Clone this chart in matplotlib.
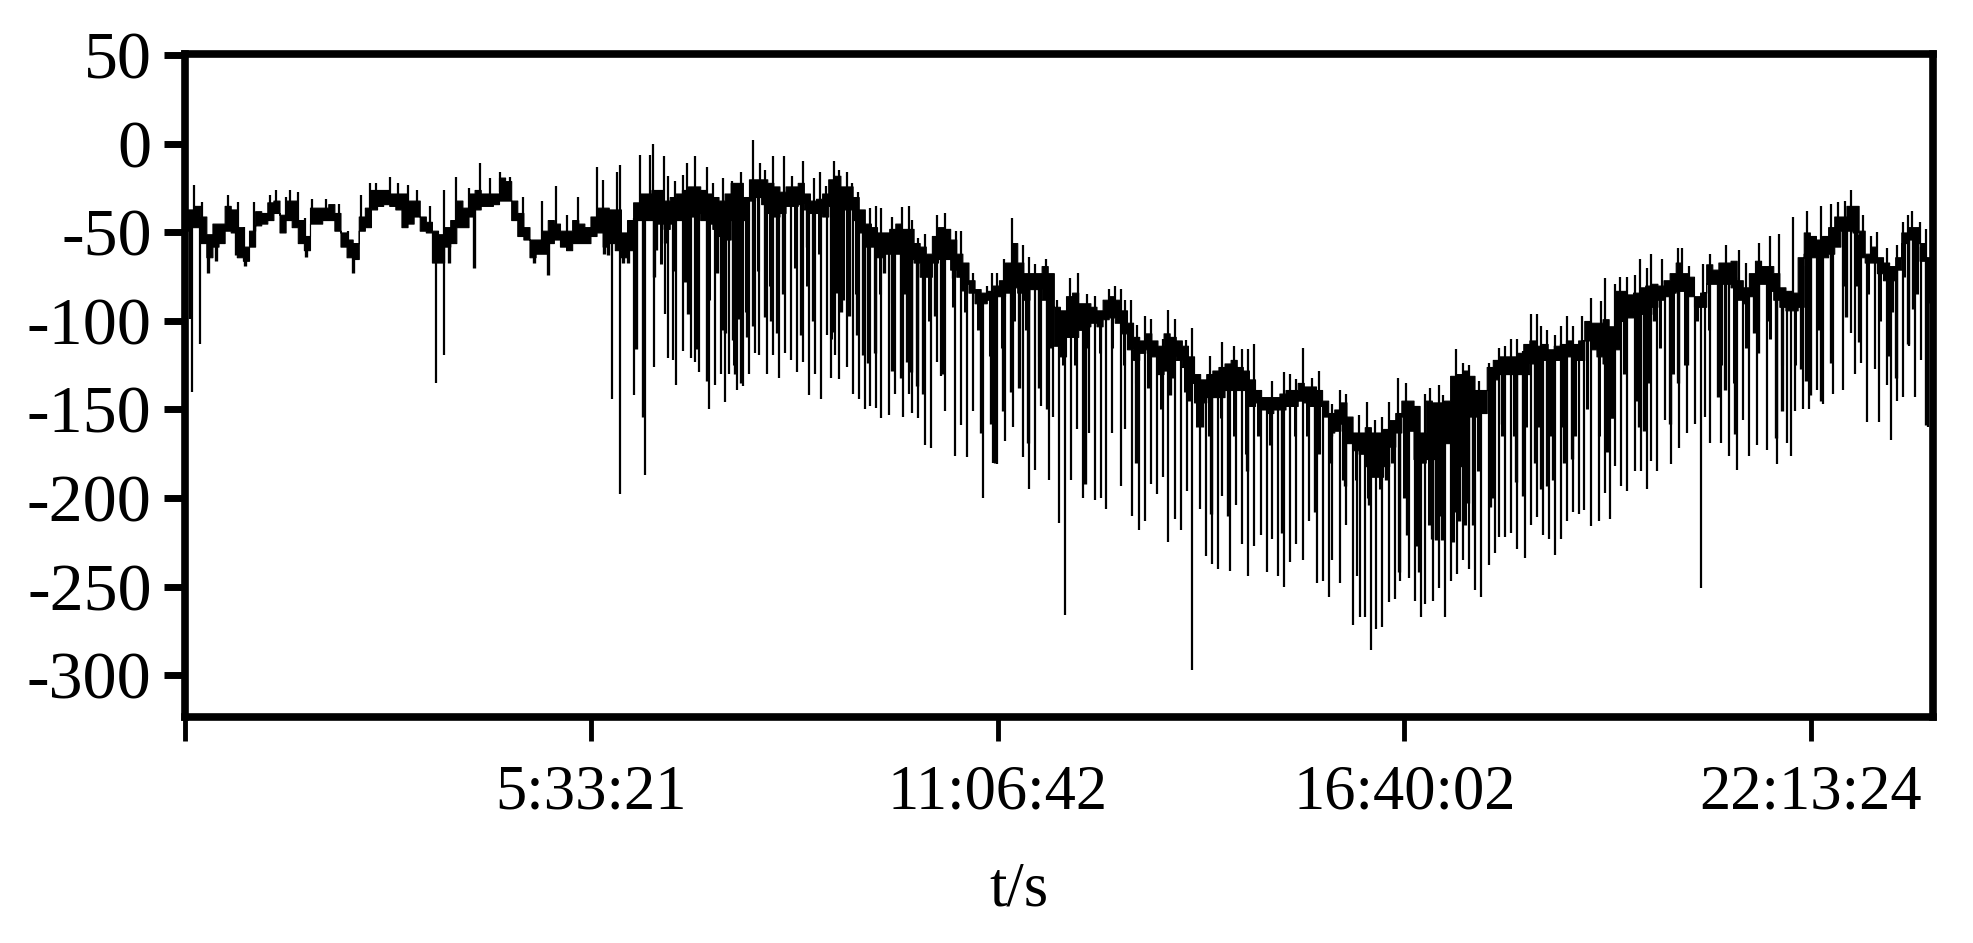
import numpy as np
import matplotlib
matplotlib.use('Agg')
import matplotlib.pyplot as plt

plt.rcParams['font.family'] = ['Liberation Serif', 'DejaVu Serif']
plt.rcParams['axes.unicode_minus'] = False

# samples are 5 minutes apart, positions below are in sample numbers
SAMPLE = 300

# solid part of the trace, even samples
band_top = [-43, -35, -51, -45, -37, -58, -38, -33, -40, -32, -52, -36, -34, -50, -56, -36, -26, -28, -28, -32,
            -44, -51, -43, -36, -26, -28, -19, -32, -47, -54, -43, -49, -43, -47, -36, -37, -50, -33, -28,
            -26, -30, -26, -24, -28, -32, -22, -30, -20, -22, -27, -24, -28, -31, -20, -24, -30, -45, -50,
            -48, -48, -56, -62, -47, -54, -67, -82, -83, -77, -56, -73, -73, -73, -94, -84, -90,
            -94, -86, -94, -109, -107, -114, -109, -114, -130, -130, -126, -122, -128, -139, -143, -141, -139,
            -137, -139, -152, -146, -163, -160, -163, -156, -145, -148, -145, -146, -131, -128, -139, -126,
            -120, -120, -113, -114, -116, -113, -113,
            -100, -101, -103, -83, -84, -80, -80, -73, -73, -86, -68, -67, -66, -81, -66, -69, -81, -84,
            -50, -54, -47, -41, -35, -62, -64, -69, -50, -47, -64, -62]
band_bottom = [-49, -47, -64, -56, -50, -66, -46, -43, -50, -47, -60, -45, -43, -58, -65, -47, -35, -35, -47, -41,
               -50, -67, -56, -47, -37, -35, -32, -43, -54, -62, -56, -58, -56, -56, -50, -56, -64, -43, -43,
               -45, -45, -43, -39, -45, -52, -43, -43, -30, -39, -39, -35, -37, -39, -35, -37, -43, -58, -64,
               -62, -64, -67, -75, -65, -71, -79, -90, -88, -86, -81, -88, -82, -92, -120, -109, -103,
               -103, -98, -107, -122, -116, -130, -120, -126, -146, -143, -143, -139, -139, -146, -152, -150, -148,
               -146, -148, -163, -158, -173, -182, -188, -171, -154, -178, -178, -163, -182, -148, -154, -139,
               -130, -130, -130, -124, -122, -122, -122,
               -111, -120, -124, -100, -94, -96, -88, -84, -83, -92, -79, -79, -81, -90, -79, -83, -92, -94,
               -62, -64, -62, -49, -50, -67, -73, -77, -56, -56, -69, -69]
# same, odd samples
odd_top = [-37, -41, -45, -35, -47, -49, -39, -32, -32, -43, -36, -36, -39, -54, -41, -26, -26, -28, -32,
           -41, -49, -47, -32, -28, -28, -28, -21, -39, -54, -49, -45, -49, -45, -41, -36, -37, -43, -28,
           -26, -32, -28, -24, -26, -30, -28, -22, -20, -20, -24, -24, -22, -32, -28, -18, -24, -37,
           -47, -50, -45, -48, -58, -52, -48, -62, -77, -84, -80, -67, -67, -73, -69, -92, -86, -90,
           -92, -88, -88, -101, -111, -111, -107, -111, -120, -133, -128, -124, -126, -133, -143, -143, -139,
           -135, -137, -145, -150, -154, -163, -163, -161, -152, -145, -163, -146, -145, -130, -131, -139,
           -122, -120, -118, -111, -113, -114, -111, -111,
           -101, -99, -83, -85, -81, -79, -77, -67, -75, -84, -71, -67, -77, -73, -69, -73, -83, -64,
           -52, -52, -41, -35, -49, -58, -67, -64, -47, -56, -64]
odd_bottom = [-47, -56, -58, -49, -64, -58, -45, -39, -43, -56, -45, -43, -49, -64, -49, -37, -34, -37, -45,
              -49, -67, -58, -47, -41, -35, -34, -32, -52, -64, -62, -54, -60, -56, -52, -58, -60, -60, -43,
              -43, -48, -43, -41, -43, -48, -54, -41, -32, -34, -41, -35, -34, -39, -41, -34, -37, -50,
              -58, -62, -62, -65, -75, -67, -65, -75, -84, -90, -86, -84, -84, -82, -88, -114, -109, -105,
              -101, -99, -101, -116, -118, -120, -128, -122, -135, -146, -143, -139, -139, -148, -150, -150, -148,
              -145, -148, -154, -162, -169, -175, -188, -182, -163, -162, -180, -178, -169, -182, -154, -152,
              -133, -130, -130, -124, -122, -122, -120, -122,
              -116, -124, -116, -98, -96, -92, -86, -83, -86, -92, -79, -79, -88, -86, -79, -88, -94, -92,
              -64, -64, -58, -49, -64, -67, -77, -71, -54, -66, -71]

# thin tips above the trace
tip_pos = [1.5, 2.8, 7.1, 8.7, 9.7, 11.3, 14, 15, 16.6, 17.3, 18.6, 19.6, 20.9, 23.2, 25.2, 26.8, 28.8, 30.4, 31.4, 33.6,
           34.9, 36.6, 38, 40.2, 42.5, 44.5, 46.6, 48.4, 50, 51.7, 53.3, 55.5, 58.6, 60.9, 62.6, 64.5, 67.5, 68.5, 70.8, 71.4,
           74.7, 76.3, 76.7, 78.5, 79.3, 80.3, 81.6, 82.3, 83.6, 85.6, 86.6, 88.2, 89.7, 91.2, 93.1, 94.3, 95.2, 96.4, 98.2, 99.6,
           101.3, 103.2, 104.2, 105.1, 106.5, 107.2, 108.5, 109.4, 110.4, 112.4, 113.4, 114.1, 116, 117.6, 118.7, 119.3, 120.3, 121.3, 123.3, 124.6,
           126.4, 127.2, 128.2, 129.2, 131.5, 132.4, 133.2, 134.4, 135.7, 137.4, 138.4, 139.4, 141.2, 143, 145.2, 146.5, 148, 149.3,
           151.5, 152.5, 153.5, 154.1, 155.1, 156.1, 157.4, 158.4, 160.4, 161.3, 162.3, 164.2, 165.2, 168.1, 170.1, 172.1, 173.4, 174.4, 175.4, 178.3,
           180.3, 181.3, 182.3, 183.3, 184.8, 186, 188.1, 189.5, 190.5, 192.5, 193.8, 195.1, 196.4, 197.4, 199, 200.3, 203.3, 204.2, 205.6, 206.3,
           208.5, 209.6, 210.6, 212.2, 213.9, 215.5, 216.5, 217.5, 218.5, 219.5, 220.7, 221.7, 222.4, 223.4, 224.7, 225.7, 226.6, 227.6, 229.2,
           230.6, 232.2, 232.9, 234.5, 235.3, 236.5, 237.8, 238.7, 239.8, 240.4, 242.3, 244.8, 245.6, 246.6, 248.9, 250.2, 252.8, 254.8, 256, 258.1,
           260, 261.4, 263.7, 266, 268.3, 269.9, 271.2, 272.2, 273.2, 275.2, 276.5, 277.5, 279.1, 280.8, 281.7, 282.6, 283.3, 284.5, 285.6, 286.9, 287.7]
tip_val = [-23, -33, -29, -33, -47, -33, -29, -26, -30, -26, -27, -42, -31, -31, -34, -49, -29, -22, -22, -18.5,
           -22, -23, -26, -35, -26, -18.5, -25, -11, -19.5, -16, -18.5, -30, -32, -24, -40, -30, -13, -20.5, -16, -12,
           -6, -6, 0, -7, -18, -21, -17.5, -10.5, -7, -13, -22, -19, -21, -16, 2, -10.5, -15, -7, -7, -18,
           -9.5, -19, -16, -24, -9.5, -15, -16, -22, -27, -36, -35, -36, -41, -35.5, -35, -43, -53, -51, -40, -39,
           -49, -49, -67, -73, -80, -73, -73, -65, -42, -57, -64, -68, -65, -88, -76, -73, -85, -86,
           -82, -80, -82, -88, -88, -102, -97, -99, -110, -94, -99, -111, -104, -120, -112, -114, -116, -116, -113, -134,
           -129, -130, -133, -115, -132, -128, -147, -139, -141, -153, -146, -156, -154, -146, -132, -135, -141, -138, -136, -142,
           -116, -124, -125, -134, -124, -115, -114, -110, -110, -117, -96, -96, -103, -105, -108, -103, -97, -103, -97,
           -87, -89, -76, -79, -75, -75, -74, -65, -70, -62, -65, -59, -59, -69, -68, -62, -57, -60, -67, -56,
           -52, -51, -41, -38, -35, -34, -33, -32, -26, -40, -52, -50, -59, -57, -44, -40, -38, -44, -48, -50, -44]

# long downward spikes
spike_pos = [0.8, 1.15, 2.5, 41.1, 42.5,
             70, 71.4, 73.7, 75.4, 77, 78.7, 79.3, 80, 80.6, 81.6, 83, 83.6, 84.3, 85.9, 86.9,
             87.9, 88.5, 89.2, 90.5, 91.5, 92.5, 93.5, 94.1, 95.4, 96.4, 97.4, 98.4, 99.4, 100.4, 101.4, 102.3, 103.3, 104.3, 105.3, 106,
             106.6, 107.3, 108.6, 109.6, 110.6, 111.5, 112.4, 113.4, 114.1, 115.4, 116.4, 117.7, 118.7, 119.3, 120.3, 121.3, 122.3, 123.3, 124, 124.6,
             126.3, 127.2, 128.2, 129.2, 130.9, 132.5, 133.2, 134.5, 135.8, 137.4, 138.4, 139.4, 140.4, 141.7, 142.4, 143.4, 144.3, 145.3, 146.3, 147.3,
             148.3, 149.3, 150.3, 151.1, 152.1, 153.5, 154.1, 155.4, 156.4, 157.4, 158.4, 159.4, 160.4, 161.3, 162.3, 163.3, 164.3, 165.2, 166.5, 167.5,
             168.5, 169.5, 170.1, 171.4, 172.4, 173.4, 174.4, 175.4, 176.4, 177.4, 178.3, 179.3, 180.3, 181.3, 182.3, 183.3, 184.3, 185.6, 186.6, 187.6,
             188.2, 189.5, 190.5, 191.5, 192.2, 192.8, 193.5, 194.5, 195.4, 196.4, 197.4, 198.4, 199.3, 200.7, 201.7, 202.7, 203.3, 204.7, 205.6, 206.6,
             207.6, 208.6, 209.6, 210.6, 211.6, 212.6, 213.9, 214.9, 215.5, 216.5, 217.5, 218.5, 219.8, 220.8, 221.8, 222.8, 223.7, 224.7, 225.7, 226.7,
             227.7, 228.7, 229.5, 230.6, 231.9, 232.9, 233.8, 234.5, 235.5, 236.5, 237.8, 238.8, 239.8, 240.4, 241.4, 242.7, 243.7, 245, 246.3, 247.7,
             248.6, 249.3, 250.2, 251.9, 253.2, 254.5, 255.5, 256.5, 257.8, 259.4, 261.1, 262.7, 263.4, 264.1, 265.4, 266.4, 267.7, 268.7, 270.3, 271.9,
             273.2, 273.9, 274.9, 275.8, 277.2, 277.8, 279.1, 279.8, 280.8, 281.8, 282.8, 283.7, 284.7, 285.8, 287, 287.7]
spike_val = [-99, -140, -113, -135, -119,
             -144, -198, -142, -187, -126, -96, -121, -122, -136, -117, -121, -123, -129, -150, -136,
             -130, -146, -130, -139, -137, -130, -118, -119, -130, -119, -132, -118, -122, -129, -123, -142, -130, -144, -108, -132,
             -119, -133, -126, -141, -144, -150, -148, -149, -155, -153, -141, -154, -141, -152, -155, -170, -172, -123, -131, -151,
             -176, -159, -177, -151, -200, -180, -181, -168, -160, -177, -195, -184, -148, -190, -154, -214, -266, -190, -161, -200,
             -163, -201, -200, -206, -163, -193, -161, -210, -218, -213, -192, -198, -188, -225, -212, -218, -196, -297, -206, -233,
             -237, -240, -199, -241, -204, -226, -244, -227, -221, -242, -223, -244, -250, -236, -226, -235, -213, -248, -247, -256,
             -235, -248, -215, -272, -244, -267, -267, -286, -274, -273, -259, -257, -247, -245, -258, -267, -260, -258, -251, -267,
             -247, -243, -235, -240, -252, -256, -238, -231, -222, -222, -220, -229, -234, -215, -211, -221, -223, -232, -223, -213,
             -208, -209, -207, -216, -213, -197, -212, -182, -193, -196, -185, -185, -195, -179, -185, -156, -181, -172, -163, -158,
             -251, -154, -169, -169, -176, -184, -156, -176, -170, -173, -181, -169, -176, -151, -150, -150, -139, -147, -141, -139,
             -107, -130, -124, -157, -127, -157, -136, -167, -145, -143, -114, -143, -122, -160, -130, -125]

# shorter spikes that thicken the dark part under the trace
short_pos = [3.8, 5.1, 8.4, 9.8, 19.9, 27.5, 43.3, 47.4, 57.2, 59.5,
             68.8, 69.4, 70.8, 71.9, 72.6, 74, 75.1, 76.9, 77.3, 78.7, 82.5, 83.9, 85.6, 87.2, 88.2, 88.6, 89.8, 90.2, 90.8, 91.2,
             92.1, 93.1, 95.1, 96.1, 97.1, 98.1, 101, 102, 103, 106.3, 106.9, 107.6, 108.9, 110.2, 111.2, 112.1, 113.1, 114.7, 116, 117.4,
             118.4, 119, 120, 121, 123, 124.3, 125.9, 127.6, 130.5, 132.2, 132.8, 134.2, 135.5, 136.8, 138.2, 140.1, 141.4, 147.6,
             155.9, 161.6, 164.7, 166.8, 168.2, 171.1, 174.2, 176, 180, 185.4, 188, 190.2, 194.2, 196.3, 197, 199.1, 200.4, 202, 202.4, 204.5, 205.2, 206.2,
             208.3, 208.9, 210.4, 211.3, 214, 214.4, 216, 218.3, 219.4, 221.5, 222.4, 223.4, 224.4, 226.2, 227.5,
             233.3, 234, 238.5, 239.3, 241, 243.5, 244.8, 246.3, 251.4, 252.6, 254.2, 257.3, 258, 259.7, 260.9, 262, 265, 265.9, 266.5, 268.4,
             269.9, 272.5, 274.6, 279.3, 280.6, 282.6, 283.4, 285.5, 286.7]
short_val = [-73, -66, -63, -69, -64, -73, -67, -70, -67, -74,
             -62, -63, -58, -67, -67, -116, -154, -75, -60, -56, -96, -116, -134, -73, -105, -107, -111, -130, -99, -135,
             -109, -103, -98, -100, -107, -85, -108, -58, -100, -106, -84, -95, -97, -108, -119, -124, -118, -73, -128, -132,
             -123, -129, -137, -141, -97, -130, -76, -83, -163, -158, -180, -151, -140, -138, -169, -138, -150, -192,
             -180, -142, -145, -160, -209, -210, -185, -140, -220, -208, -165, -193, -204, -182, -190, -242, -221, -227, -242, -223, -224, -224,
             -208, -213, -203, -215, -205, -200, -158, -191, -199, -180, -195, -193, -190, -180, -178,
             -174, -155, -160, -162, -100, -158, -135, -125, -143, -139, -164, -107, -118, -100, -166, -151, -127, -134, -142, -145,
             -124, -98, -112, -120, -132, -113, -93, -159, -115]

# lower edge of the dark shading under the trace, even samples from 78 on
shade_val = [-68, -72, -78, -80, -88, -100, -125, -95, -72, -80, -82, -70, -80, -62, -110, -88, -85, -88, -85, -90, -85,
             -110, -100, -105, -92, -95, -105, -120, -115, -100, -105, -120, -115, -125, -125, -115, -118, -115, -125,
             -135, -138, -150, -132, -140, -160, -165, -155, -165, -175, -165, -170, -185, -165, -165, -175, -180,
             -190, -190, -200, -195, -180, -200, -220, -215, -210, -225, -215, -185, -180, -165, -165, -160, -160, -165, -160, -165,
             -150, -165, -155, -130, -145, -135, -115, -130, -125, -100, -105, -125, -135, -115, -100, -110, -125, -125, -115,
             -105, -105, -80, -80, -85, -100, -95, -75, -85, -90, -85]

x_ticks = [0, 20001, 40002, 60002, 80004]
x_labels = ['', '5:33:21', '11:06:42', '16:40:02', '22:13:24']
y_ticks = [50, 0, -50, -100, -150, -200, -250, -300]

# put even and odd samples back together
top = np.empty(len(band_top) + len(odd_top))
top[::2] = band_top
top[1::2] = odd_top
bottom = np.empty(len(band_bottom) + len(odd_bottom))
bottom[::2] = band_bottom
bottom[1::2] = odd_bottom
band_t = np.arange(len(top)) * SAMPLE
mid = (top + bottom) / 2

fig = plt.figure(figsize=(19.73, 9.43), dpi=100)
ax = fig.add_axes([185 / 1973, 1 - 717 / 943, 1748 / 1973, 663 / 943])

ax.fill_between(band_t, top, bottom, step='mid', color='black', linewidth=0.8)

shade_pos = np.arange(78, 78 + 2 * len(shade_val), 2)
for pos, val, lw in [(tip_pos, tip_val, 1.6), (spike_pos, spike_val, 1.6), (short_pos, short_val, 2.4), (shade_pos, shade_val, 2.2)]:
    t = np.array(pos) * SAMPLE
    ax.vlines(t, np.interp(t, band_t, mid), val, color='black', linewidth=lw)

ax.set_xlim(0, 86010)
ax.set_ylim(-323.7, 50.8)
ax.set_xticks(x_ticks)
ax.set_xticklabels(x_labels)
ax.set_yticks(y_ticks)
ax.tick_params(axis='y', length=15, width=5, labelsize=49, pad=9)
ax.tick_params(axis='x', length=17, width=3.5, labelsize=45, pad=17)
for s in ax.spines.values():
    s.set_linewidth(5.5)

ax.set_xlabel('t/s', fontsize=45, va='center')
ax.xaxis.set_label_coords(0.477, -0.262)

fig.savefig('out.png', dpi=100)
